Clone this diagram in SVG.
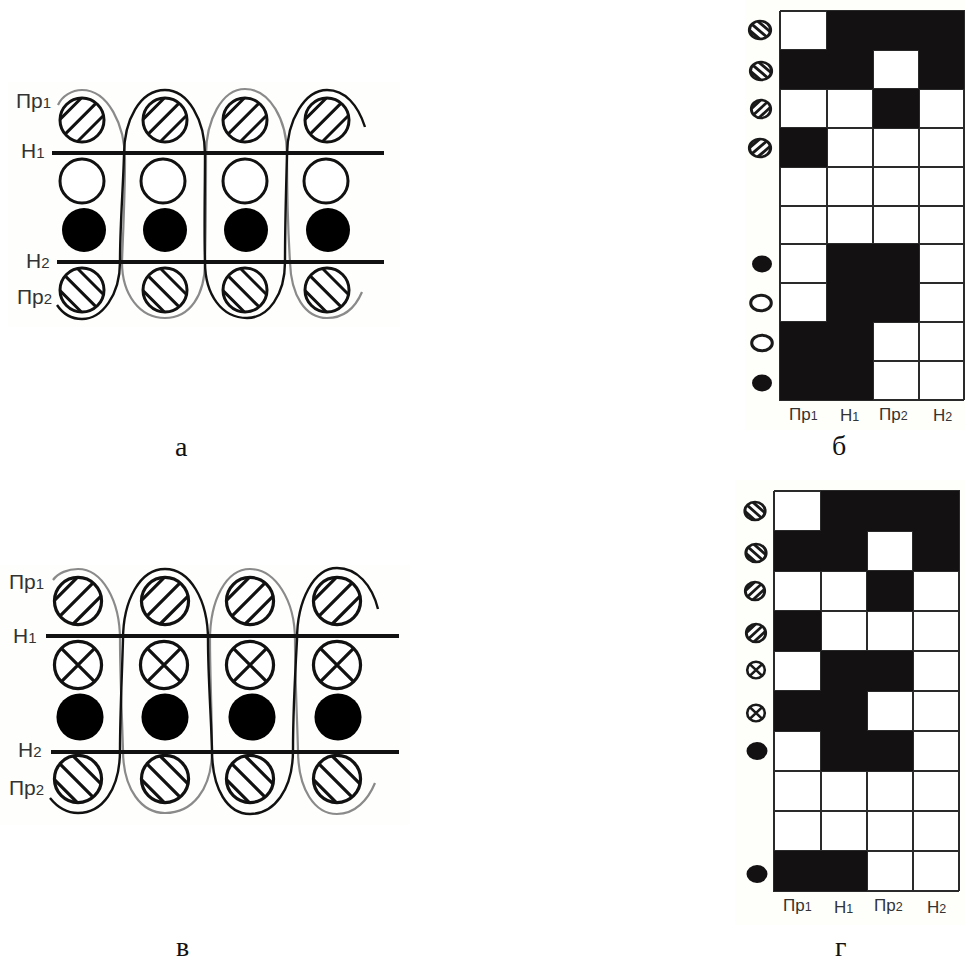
<svg xmlns="http://www.w3.org/2000/svg" width="965" height="963" viewBox="0 0 965 963">
<style>
.sans{font-family:"Liberation Sans",Arial,sans-serif;fill:#333}
.big{font-size:21px}.big tspan{font-size:15px}
.sm{font-size:17px}.sm tspan{font-size:12.5px}
.cap{font-family:"Liberation Serif","Times New Roman",serif;font-size:28px;fill:#111}
.c{fill:none;stroke:#111;stroke-width:2.4}
.g{fill:none;stroke:#8a8a8a;stroke-width:2.2}
.r{fill:none;stroke:#111;stroke-width:4.2;stroke-linecap:butt}
.grid{stroke:#2a2a2a;stroke-width:2;fill:none}
.k{fill:#141112;stroke:none}
.big-m{stroke:#111;stroke-width:3}
.sm-m{stroke:#1a1a1a;stroke-width:6.5}
</style>
<defs>
<g id="pr1" fill="none">
<circle r="22" fill="#fff"/>
<path d="M-22-.6L-.6-22M-16.9 14.1L14.1-16.9M-4.5 21.5L21.5-4.5"/>
</g>
<g id="pr2" fill="none">
<circle r="22" fill="#fff"/>
<path d="M-22 .6L-.6 22M-16.9-14.1L14.1 16.9M-4.5-21.5L21.5 4.5"/>
</g>
<g id="wh"><circle r="22" fill="#fff"/></g>
<g id="xc" fill="none"><circle r="22" fill="#fff"/><path d="M-15.5-15.5L15.5 15.5M-15.5 15.5L15.5-15.5"/></g>
<circle id="bl" r="22" fill="#000" stroke="none"/>
</defs>
<rect width="965" height="963" fill="#fff"/>
<rect x="8" y="82" width="392" height="245" fill="#fefefc"/>
<rect x="745" y="0" width="220" height="430" fill="#fefefb"/>
<rect x="0" y="565" width="410" height="260" fill="#fefefc"/>
<rect x="735" y="480" width="230" height="445" fill="#fefefb"/>

<g id="panel-a">
<g id="a-pr1" class="big-m"><use href="#pr1" x="82" y="120"/><use href="#pr1" x="165" y="120"/><use href="#pr1" x="245" y="120"/><use href="#pr1" x="327" y="120"/></g>
<g id="a-white" class="big-m"><use href="#wh" x="82" y="181"/><use href="#wh" x="163" y="181"/><use href="#wh" x="245" y="181"/><use href="#wh" x="326" y="181"/></g>
<g id="a-black"><use href="#bl" x="84" y="230"/><use href="#bl" x="165" y="230"/><use href="#bl" x="246" y="230"/><use href="#bl" x="328" y="230"/></g>
<g id="a-pr2" class="big-m"><use href="#pr2" x="82" y="290"/><use href="#pr2" x="165" y="290"/><use href="#pr2" x="245" y="290"/><use href="#pr2" x="327" y="290"/></g>
<text class="sans big" x="16" y="108">Пр<tspan>1</tspan></text>
<text class="sans big" x="21" y="158">Н<tspan>1</tspan></text>
<text class="sans big" x="26" y="268">Н<tspan>2</tspan></text>
<text class="sans big" x="17" y="304">Пр<tspan>2</tspan></text>
</g>

<g id="connectors-a">
<path class="g" d="M58 105C62 96 72 90 82 90C108 90 125 125 125 160C125 195 123 235 122 262C122 295 140 318 165 318C190 318 205 295 205 262C206 225 206 190 206 155C206 120 222 89 245 89C270 89 287 120 287 155C287 190 288 230 290 262C291 295 305 318 327 318C345 318 356 306 362 292"/>
<path class="c" d="M57 305C63 314 72 319 82 319C102 319 120 295 120 262C120 225 123 190 124 155C124 120 140 90 165 90C188 90 205 120 205 155C205 190 204 230 205 262C205 295 222 318 247 318C268 318 285 295 285 262C285 225 286 190 287 155C287 120 305 90 327 90C345 90 358 105 365 127"/>
<path class="r" d="M52 153H384"/>
<path class="r" d="M57 262H384"/>
</g>

<g id="panel-b">
<rect x="780" y="11" width="184" height="389" fill="#fff"/>
<path class="grid" d="M780 11V400H964M780 11H964V400M827 11V400M873 11V400M919 11V400M780 50H964M780 89H964M780 128H964M780 167H964M780 206H964M780 244H964M780 283H964M780 322H964M780 361H964"/>
<g id="b-cells">
<rect class="k" x="827" y="11" width="137" height="39"/>
<rect class="k" x="780" y="50" width="93" height="39"/>
<rect class="k" x="919" y="50" width="45" height="39"/>
<rect class="k" x="873" y="89" width="46" height="39"/>
<rect class="k" x="780" y="128" width="47" height="39"/>
<rect class="k" x="827" y="244" width="92" height="78"/>
<rect class="k" x="780" y="322" width="93" height="78"/>
</g>
<g id="b-markers" class="sm-m">
<use href="#pr2" transform="translate(760 30) scale(.48 .41)"/>
<use href="#pr2" transform="translate(761 71) scale(.48 .41)"/>
<use href="#pr1" transform="translate(761 109) scale(.44 .41)"/>
<use href="#pr1" transform="translate(760 148) scale(.48 .41)"/>
<ellipse class="k" cx="762" cy="264" rx="10" ry="8.5"/>
<ellipse cx="761" cy="303" rx="10.3" ry="7.8" fill="#fff" stroke-width="3"/>
<ellipse cx="762" cy="343" rx="10.3" ry="7.8" fill="#fff" stroke-width="3"/>
<ellipse class="k" cx="762" cy="383" rx="10" ry="8.5"/>
</g>
<text class="sans sm" x="789" y="420">Пр<tspan>1</tspan></text>
<text class="sans sm" x="840" y="421">Н<tspan>1</tspan></text>
<text class="sans sm" x="879" y="420">Пр<tspan>2</tspan></text>
<text class="sans sm" x="933" y="421">Н<tspan>2</tspan></text>
</g>

<g id="panel-v">
<g id="v-pr1" class="big-m"><use href="#pr1" transform="translate(78 601) scale(1.07)"/><use href="#pr1" transform="translate(165 601) scale(1.07)"/><use href="#pr1" transform="translate(250 601) scale(1.07)"/><use href="#pr1" transform="translate(337 601) scale(1.07)"/></g>
<g id="v-x" class="big-m"><use href="#xc" transform="translate(78 665) scale(1.07)"/><use href="#xc" transform="translate(164 665) scale(1.07)"/><use href="#xc" transform="translate(250 665) scale(1.07)"/><use href="#xc" transform="translate(337 665) scale(1.07)"/></g>
<g id="v-black"><use href="#bl" transform="translate(80 717) scale(1.07)"/><use href="#bl" transform="translate(165 717) scale(1.07)"/><use href="#bl" transform="translate(252 717) scale(1.07)"/><use href="#bl" transform="translate(338 717) scale(1.07)"/></g>
<g id="v-pr2" class="big-m"><use href="#pr2" transform="translate(78 779) scale(1.07)"/><use href="#pr2" transform="translate(165 779) scale(1.07)"/><use href="#pr2" transform="translate(250 779) scale(1.07)"/><use href="#pr2" transform="translate(337 779) scale(1.07)"/></g>
<text class="sans big" x="9" y="589">Пр<tspan>1</tspan></text>
<text class="sans big" x="13" y="643">Н<tspan>1</tspan></text>
<text class="sans big" x="18" y="757">Н<tspan>2</tspan></text>
<text class="sans big" x="9" y="795">Пр<tspan>2</tspan></text>
</g>

<g id="connectors-v">
<path class="g" d="M53 580C58 573 68 569 78 569C102 569 120 600 120 640C120 675 122 715 123 750C123 790 142 813 165 813C192 813 212 790 212 750C212 715 210 675 210 640C210 600 226 569 250 569C275 569 295 600 295 640C295 675 297 715 298 750C298 790 315 814 337 814C355 814 368 800 375 783"/>
<path class="c" d="M50 798C58 808 68 813 78 813C102 813 120 790 120 750C120 715 122 675 123 640C123 600 140 569 165 569C190 569 208 600 208 640C208 675 211 715 212 750C212 790 228 814 250 814C274 814 293 790 293 750C293 715 295 675 297 640C297 600 314 568 337 568C357 568 372 585 378 609"/>
<path class="r" d="M46 636H399"/>
<path class="r" d="M51 752H399"/>
</g>

<g id="panel-g">
<rect x="774" y="491" width="185" height="400" fill="#fff"/>
<path class="grid" d="M774 491V891H959M774 491H959V891M821 491V891M867 491V891M913 491V891M774 531H959M774 571H959M774 611H959M774 651H959M774 691H959M774 731H959M774 771H959M774 811H959M774 851H959"/>
<g id="g-cells">
<rect class="k" x="821" y="491" width="138" height="40"/>
<rect class="k" x="774" y="531" width="93" height="40"/>
<rect class="k" x="913" y="531" width="46" height="40"/>
<rect class="k" x="867" y="571" width="46" height="40"/>
<rect class="k" x="774" y="611" width="47" height="40"/>
<rect class="k" x="821" y="651" width="92" height="40"/>
<rect class="k" x="774" y="691" width="93" height="40"/>
<rect class="k" x="821" y="731" width="92" height="40"/>
<rect class="k" x="774" y="851" width="93" height="40"/>
</g>
<g id="g-markers" class="sm-m">
<use href="#pr2" transform="translate(755 511) scale(.46 .41)"/>
<use href="#pr2" transform="translate(756 553) scale(.46 .41)"/>
<use href="#pr1" transform="translate(755 591) scale(.44 .41)"/>
<use href="#pr1" transform="translate(756 633) scale(.44 .41)"/>
<use href="#xc" transform="translate(756 670) scale(.4 .38)"/>
<use href="#xc" transform="translate(756 713) scale(.4 .38)"/>
<ellipse class="k" cx="757" cy="751" rx="10.5" ry="9"/>
<ellipse class="k" cx="757" cy="874" rx="10.5" ry="9"/>
</g>
<text class="sans sm" x="783" y="911">Пр<tspan>1</tspan></text>
<text class="sans sm" x="834" y="913">Н<tspan>1</tspan></text>
<text class="sans sm" x="874" y="911">Пр<tspan>2</tspan></text>
<text class="sans sm" x="927" y="913">Н<tspan>2</tspan></text>
</g>

<text class="cap" x="175" y="456">а</text>
<text class="cap" x="832" y="455">б</text>
<text class="cap" x="176" y="956">в</text>
<text class="cap" x="835" y="956">г</text>
</svg>
